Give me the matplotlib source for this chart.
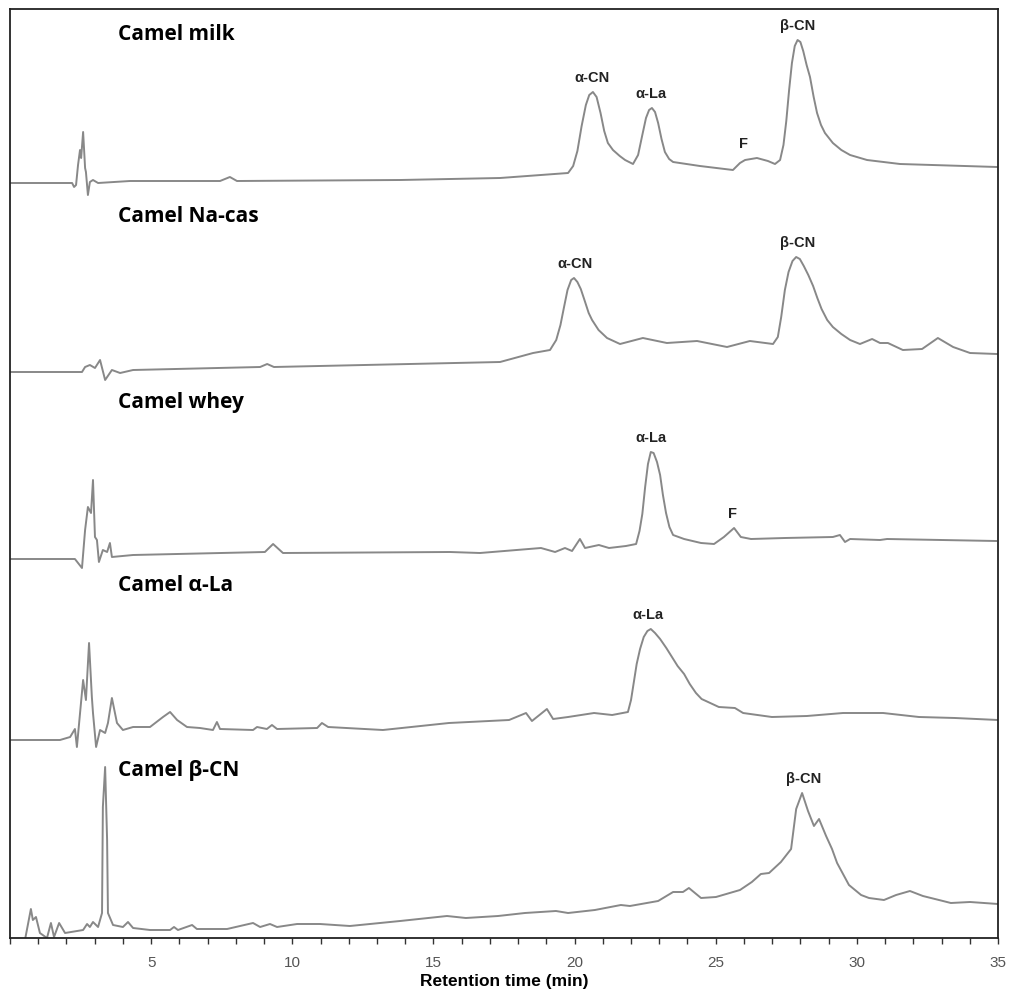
import numpy as np
import matplotlib.pyplot as plt
import matplotlib as mpl
from matplotlib.ticker import MultipleLocator

mpl.rcParams['font.family'] = ['Liberation Sans', 'DejaVu Sans']

# retention time (min) and detector response above each trace's baseline
t_milk = [0.00, 2.20, 2.27, 2.34, 2.41, 2.48, 2.52, 2.59, 2.66, 2.69,
          2.76, 2.83, 2.94, 3.12, 4.25, 7.44, 7.79, 8.04, 13.82, 17.36,
          19.77, 19.95, 20.10, 20.25, 20.40, 20.52, 20.65, 20.78, 20.92, 21.05,
          21.18, 21.36, 21.60, 21.79, 22.07, 22.25, 22.40, 22.53, 22.64, 22.74,
          22.85, 22.96, 23.08, 23.20, 23.35, 23.49, 24.44, 25.61, 25.86, 26.04,
          26.46, 26.85, 27.10, 27.28, 27.40, 27.50, 27.60, 27.70, 27.80, 27.90,
          28.00, 28.10, 28.22, 28.34, 28.47, 28.59, 28.73, 28.87, 29.15, 29.45,
          29.76, 30.36, 31.53, 34.96]
i_milk = [0, 0, -4, -2, 18, 33, 25, 51, 15, 11,
          -12, 1, 3, 0, 2, 2, 6, 2, 3, 5,
          10, 17, 32, 57, 78, 88, 91, 86, 70, 52,
          40, 33, 27, 23, 19, 28, 48, 65, 73, 75,
          71, 60, 44, 31, 24, 21, 17, 13, 20, 23,
          25, 22, 19, 23, 38, 62, 93, 120, 137, 143,
          141, 132, 118, 106, 86, 70, 58, 50, 40, 33,
          28, 23, 19, 16]

t_nacas = [0.00, 2.55, 2.66, 2.83, 3.01, 3.19, 3.37, 3.61, 3.90, 4.36,
           8.86, 9.11, 9.35, 17.36, 18.53, 19.13, 19.35, 19.50, 19.62, 19.75,
           19.88, 19.98, 20.10, 20.22, 20.35, 20.50, 20.62, 20.85, 21.15, 21.61,
           22.42, 23.27, 24.34, 25.40, 26.21, 27.03, 27.20, 27.32, 27.45, 27.58,
           27.72, 27.85, 27.98, 28.12, 28.28, 28.45, 28.60, 28.75, 28.95, 29.15,
           29.45, 29.76, 30.11, 30.54, 30.82, 31.10, 31.63, 32.31, 32.87, 33.41,
           34.01, 34.96]
i_nacas = [0, 0, 5, 7, 4, 12, -8, 2, -1, 2,
           5, 8, 5, 10, 19, 22, 32, 47, 64, 82,
           92, 94, 90, 83, 72, 59, 52, 42, 34, 28,
           34, 29, 31, 25, 31, 28, 35, 55, 82, 100,
           111, 115, 113, 106, 97, 86, 74, 63, 52, 45,
           38, 32, 28, 33, 29, 29, 22, 23, 34, 25,
           19, 18]

t_whey = [0.00, 2.30, 2.55, 2.66, 2.76, 2.87, 2.94, 3.01, 3.08, 3.15,
          3.29, 3.44, 3.54, 3.61, 4.36, 9.03, 9.32, 9.67, 15.59, 16.65,
          18.81, 19.31, 19.66, 19.91, 20.19, 20.37, 20.86, 21.22, 21.82, 22.18,
          22.30, 22.40, 22.50, 22.60, 22.70, 22.80, 22.92, 23.03, 23.13, 23.24,
          23.36, 23.49, 23.88, 24.48, 24.94, 25.29, 25.65, 25.89, 26.25, 27.45,
          29.15, 29.40, 29.58, 29.76, 30.82, 31.07, 34.93]
i_whey = [0, 0, -9, 29, 52, 46, 79, 22, 19, -3,
          9, 7, 16, 2, 4, 7, 15, 6, 7, 6,
          11, 7, 11, 8, 20, 11, 14, 11, 13, 15,
          28, 45, 72, 95, 107, 106, 97, 84, 64, 46,
          32, 24, 20, 16, 15, 22, 31, 22, 20, 21,
          22, 24, 17, 20, 19, 20, 18]

t_ala = [0.00, 1.77, 2.13, 2.30, 2.37, 2.59, 2.69, 2.80, 2.90, 2.94,
         3.05, 3.19, 3.37, 3.47, 3.61, 3.79, 4.00, 4.36, 4.96, 5.42,
         5.67, 5.92, 6.27, 6.73, 7.19, 7.33, 7.44, 8.61, 8.75, 9.10,
         9.28, 9.46, 10.88, 11.05, 11.27, 13.21, 15.55, 17.68, 18.28, 18.49,
         19.02, 19.24, 19.77, 20.69, 21.33, 21.89, 22.00, 22.10, 22.20, 22.32,
         22.45, 22.58, 22.70, 22.85, 23.03, 23.25, 23.45, 23.65, 23.88, 24.08,
         24.30, 24.50, 24.73, 25.11, 25.68, 25.97, 26.99, 28.23, 29.51, 30.93,
         32.20, 33.48, 35.00]
i_ala = [0, 0, 3, 11, -7, 60, 40, 97, 43, 27,
         -7, 10, 7, 17, 42, 17, 10, 13, 13, 23,
         28, 20, 13, 12, 10, 18, 11, 10, 13, 11,
         15, 11, 12, 17, 13, 10, 17, 20, 27, 19,
         31, 21, 23, 27, 25, 28, 40, 58, 76, 91,
         103, 109, 111, 107, 101, 92, 83, 74, 66, 56,
         47, 41, 38, 33, 32, 27, 23, 24, 27, 27,
         23, 22, 20]

t_bcn = [0.53, 0.74, 0.81, 0.92, 1.06, 1.31, 1.45, 1.56, 1.74, 1.95,
         2.59, 2.73, 2.83, 2.94, 3.12, 3.26, 3.29, 3.37, 3.44, 3.47,
         3.65, 4.00, 4.18, 4.36, 4.96, 5.67, 5.81, 5.95, 6.45, 6.62,
         7.69, 8.61, 8.86, 9.21, 9.46, 10.17, 10.98, 12.04, 13.82, 15.48,
         16.15, 17.29, 18.24, 19.34, 19.77, 20.72, 21.64, 21.96, 22.96, 23.49,
         23.84, 24.05, 24.48, 25.01, 25.86, 26.28, 26.60, 26.89, 27.31, 27.67,
         27.85, 28.06, 28.27, 28.48, 28.66, 28.91, 29.12, 29.30, 29.72, 30.15,
         30.43, 30.96, 31.39, 31.88, 32.34, 33.05, 33.33, 34.01, 35.00]
i_bcn = [-10, 21, 10, 13, -3, -8, 7, -7, 7, -3,
         0, 6, 3, 8, 3, 17, 123, 163, 90, 17,
         5, 3, 8, 2, 0, 0, 3, 0, 5, 1,
         1, 7, 3, 6, 3, 6, 6, 4, 9, 14,
         12, 14, 17, 19, 17, 20, 25, 24, 29, 38,
         38, 42, 32, 33, 40, 48, 56, 57, 68, 81,
         121, 137, 119, 104, 111, 94, 81, 67, 45, 35,
         32, 30, 35, 39, 34, 29, 27, 28, 26]

samples = ['Camel milk', 'Camel Na-cas', 'Camel whey', 'Camel α-La', 'Camel β-CN']
times = [t_milk, t_nacas, t_whey, t_ala, t_bcn]
resp = [i_milk, i_nacas, i_whey, i_ala, i_bcn]
offsets = [755, 566, 379, 198, 8]       # vertical stacking of the traces
title_y = [898, 716, 530, 347, 162]

# peak names: (trace index, name, retention time)
peaks = [(0, 'α-CN', 20.6), (0, 'α-La', 22.7), (0, 'F', 26.0), (0, 'β-CN', 27.9),
         (1, 'α-CN', 20.0), (1, 'β-CN', 27.9),
         (2, 'α-La', 22.7), (2, 'F', 25.6),
         (3, 'α-La', 22.6),
         (4, 'β-CN', 28.1)]

fig = plt.figure(figsize=(10.12, 10), dpi=100)
ax = fig.add_axes([10/1012, 62/1000, 988/1012, 929/1000])

for k in range(len(samples)):
    y = offsets[k] + np.array(resp[k])
    ax.plot(times[k], y, color='#888888', lw=1.4, solid_joinstyle='round')
    ax.text(3.83, title_y[k], samples[k], fontsize=15, fontweight='bold',
            family=['Open Sans', 'DejaVu Sans'], va='baseline', ha='left')

for k, name, tp in peaks:
    tt = np.array(times[k])
    vv = np.array(resp[k])
    near = np.abs(tt - tp) < 0.5
    top = offsets[k] + vv[near].max()
    ax.annotate(name, (tp, top), xytext=(0, 5), textcoords='offset points',
                ha='center', va='bottom', fontsize=10.5, fontweight='bold',
                color='#222222')

ax.set_xlim(0, 35)
ax.set_ylim(0, 929)
ax.set_xticks([5, 10, 15, 20, 25, 30, 35])
ax.xaxis.set_minor_locator(MultipleLocator(1))
ax.tick_params(axis='x', which='both', direction='out', length=4, width=1,
               color='#333333', labelsize=11, labelcolor='#555555', pad=9)
ax.set_yticks([])
for s in ax.spines.values():
    s.set_linewidth(1.3)
    s.set_color('#222222')
ax.set_xlabel('Retention time (min)', fontsize=12.5, fontweight='bold',
              labelpad=3)

fig.savefig('out.png', dpi=100)
